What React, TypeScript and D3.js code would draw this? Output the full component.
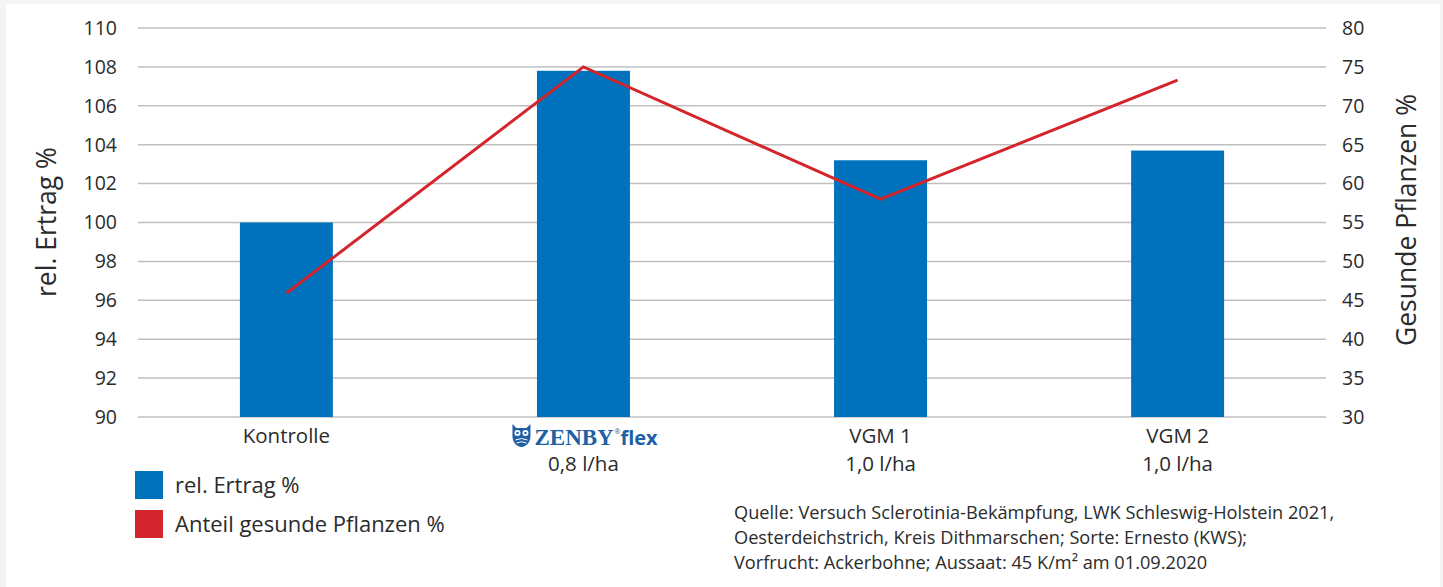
import React from 'react';
import * as d3 from 'd3';

const categories = ['Kontrolle', 'ZENBY', 'VGM 1', 'VGM 2'];
const subLabels = ['', '0,8 l/ha', '1,0 l/ha', '1,0 l/ha'];
const ertrag = [100, 107.8, 103.2, 103.7];
const gesund = [45.9, 75, 58, 73.3];
const leftTicks = [90, 92, 94, 96, 98, 100, 102, 104, 106, 108, 110];
const rightTicks = [30, 35, 40, 45, 50, 55, 60, 65, 70, 75, 80];
const sourceLines = [
  'Quelle: Versuch Sclerotinia-Bekämpfung, LWK Schleswig-Holstein 2021,',
  'Oesterdeichstrich, Kreis Dithmarschen; Sorte: Ernesto (KWS);',
  'Vorfrucht: Ackerbohne; Aussaat: 45 K/m² am 01.09.2020',
];

const W = 1443;
const H = 587;
const FONT = '"Open Sans", "Noto Sans", sans-serif';
const BLUE = '#0071bc';
const RED = '#d4252c';
const TXT = '#2b2b2b';

const App = () => {
  const x = d3.scaleBand().domain(categories).range([138, 1326]).paddingInner(0.687).paddingOuter(0.343);
  const yL = d3.scaleLinear().domain([90, 110]).range([417, 28]);
  const yR = d3.scaleLinear().domain([30, 80]).range([417, 28]);
  const cx = (c: string) => (x(c) ?? 0) + x.bandwidth() / 2;

  const line = d3
    .line<number>()
    .x((d, i) => cx(categories[i]))
    .y((d) => yR(d));

  return (
    <svg width={W} height={H} style={{ display: 'block', position: 'absolute', left: 0, top: 0 }} fontFamily={FONT}>
      <rect x={0} y={0} width={W} height={H} fill="#f4f4f4" />
      <rect x={6} y={4} width={1434} height={H - 4} fill="#ffffff" />

      {leftTicks.map((t) => (
        <line key={t} x1={138} x2={1326} y1={yL(t)} y2={yL(t)} stroke="#bfbfbf" strokeWidth={1.5} />
      ))}
      {leftTicks.map((t) => (
        <text key={'l' + t} x={117} y={yL(t)} dy="0.35em" textAnchor="end" fontSize={19.5} fill={TXT}>
          {t}
        </text>
      ))}
      {rightTicks.map((t) => (
        <text key={'r' + t} x={1342} y={yR(t)} dy="0.35em" textAnchor="start" fontSize={19.5} fill={TXT}>
          {t}
        </text>
      ))}

      <text transform="translate(56,222) rotate(-90)" textAnchor="middle" fontSize={26.5} fill={TXT}>
        rel. Ertrag %
      </text>
      <text transform="translate(1416,220) rotate(-90)" textAnchor="middle" fontSize={26.5} fill={TXT}>
        Gesunde Pflanzen %
      </text>

      {categories.map((c, i) => (
        <rect key={c} x={x(c)} y={yL(ertrag[i])} width={x.bandwidth()} height={yL(90) - yL(ertrag[i])} fill={BLUE} />
      ))}

      <path d={line(gesund) ?? ''} fill="none" stroke={RED} strokeWidth={3} strokeLinejoin="miter" />

      {categories.map((c, i) =>
        c === 'ZENBY' ? (
          <g key={c}>
            <g transform={`translate(${cx(c) - 72},424)`} fill="#1f5fa6">
              <path d="M1,0 L5,4 L15,4 L19,0 L19,12 C19,19 14,23 10,23 C6,23 1,19 1,12 Z" />
              <circle cx={6} cy={9} r={3} fill="#ffffff" />
              <circle cx={14} cy={9} r={3} fill="#ffffff" />
              <circle cx={6} cy={9} r={1.3} />
              <circle cx={14} cy={9} r={1.3} />
              <path d="M4,16 Q10,13 16,16 M5,19 Q10,16.5 15,19" stroke="#ffffff" strokeWidth={1} fill="none" />
            </g>
            <text x={cx(c) - 49} y={445} fontFamily='"Liberation Serif", "DejaVu Serif", serif' fontWeight={700} fontSize={23} fill="#1f5fa6">
              ZENBY
            </text>
            <text x={cx(c) + 31} y={434} fontSize={7} fill="#1f5fa6">
              ®
            </text>
            <text x={cx(c) + 37} y={445} fontSize={20} fontWeight={700} fill="#1f5fa6">
              flex
            </text>
            <text x={cx(c)} y={471} textAnchor="middle" fontSize={20.5} fill={TXT}>
              {subLabels[i]}
            </text>
          </g>
        ) : (
          <g key={c}>
            <text x={cx(c)} y={443} textAnchor="middle" fontSize={20.5} fill={TXT}>
              {c}
            </text>
            <text x={cx(c)} y={471} textAnchor="middle" fontSize={20.5} fill={TXT}>
              {subLabels[i]}
            </text>
          </g>
        )
      )}

      <rect x={135} y={471} width={28} height={28} fill={BLUE} />
      <text x={175} y={493} fontSize={22} fill={TXT}>
        rel. Ertrag %
      </text>
      <rect x={135} y={510} width={28} height={28} fill={RED} />
      <text x={175} y={532} fontSize={22} fill={TXT}>
        Anteil gesunde Pflanzen %
      </text>

      {sourceLines.map((s, i) => (
        <text key={i} x={734} y={519 + i * 25} fontSize={18.2} fill={TXT}>
          {s}
        </text>
      ))}
    </svg>
  );
};

export default App;
